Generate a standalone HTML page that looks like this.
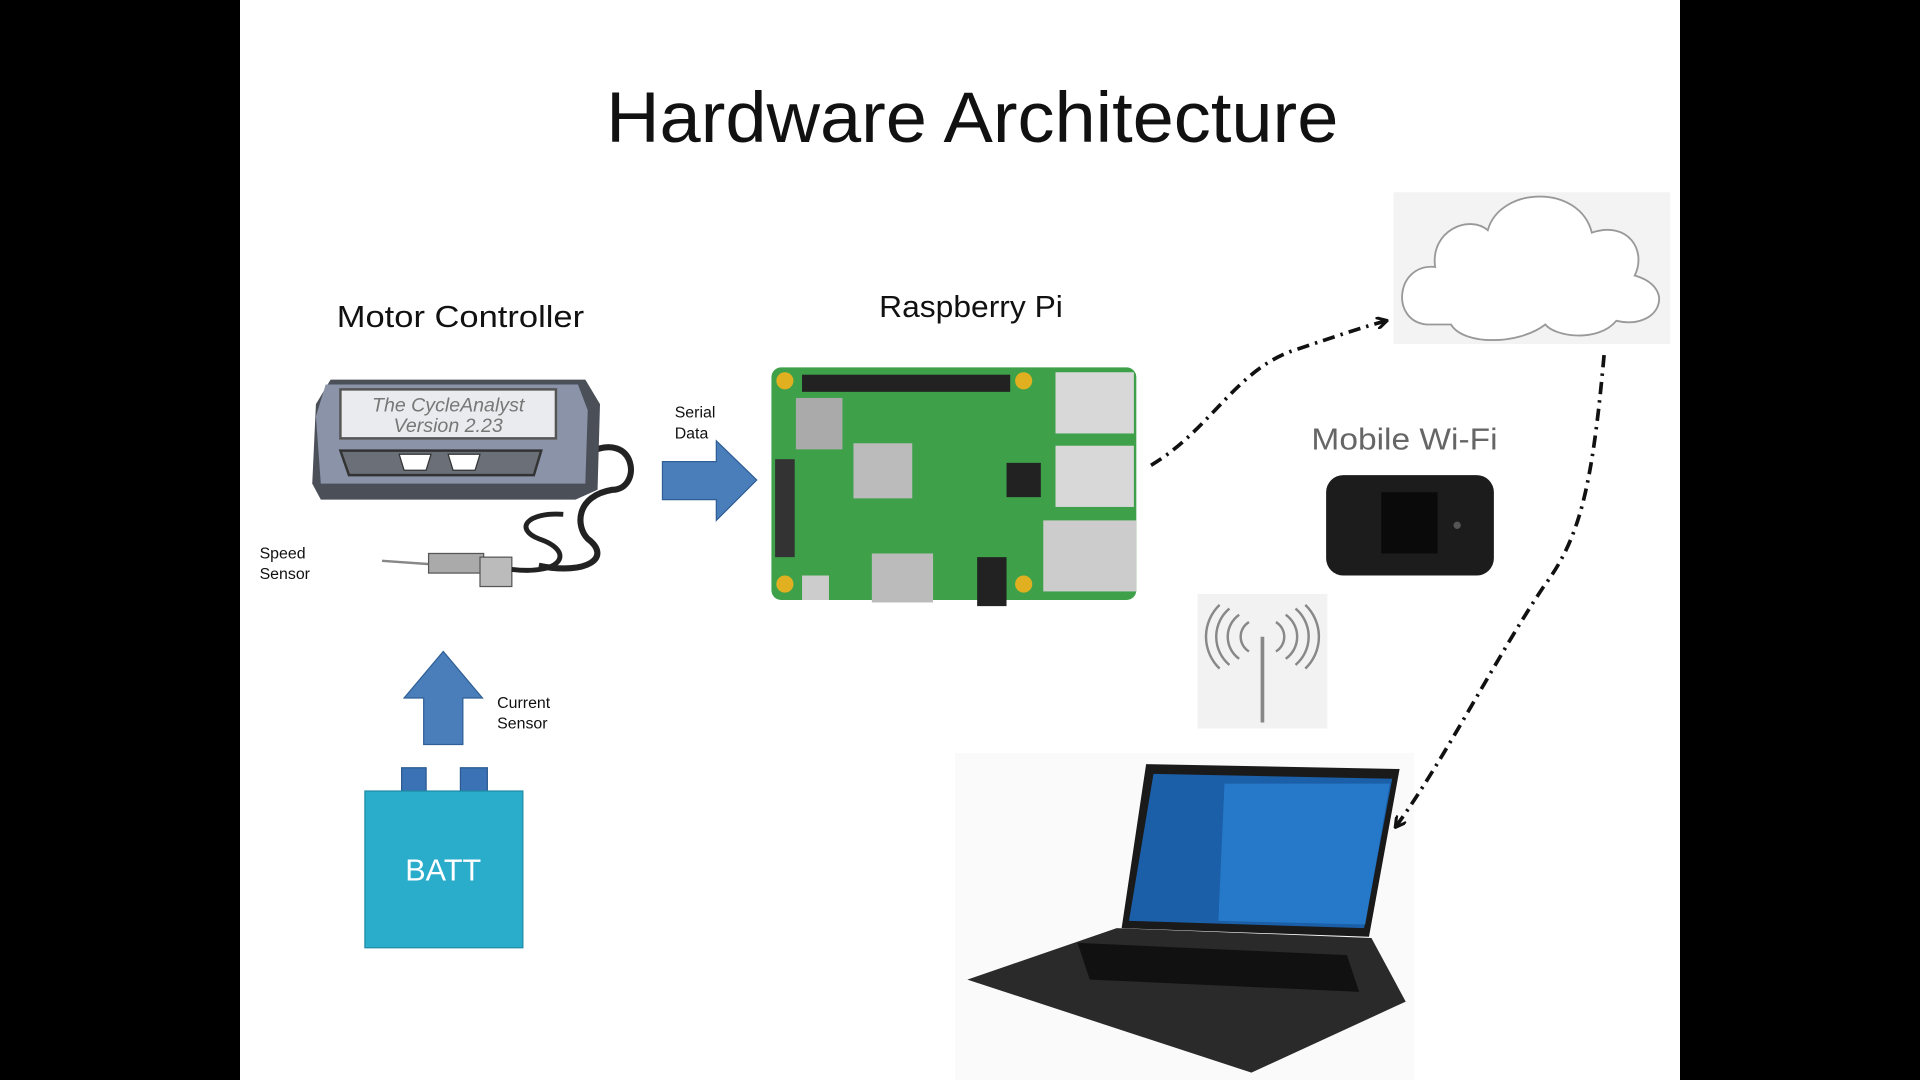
<!DOCTYPE html>
<html><head><meta charset="utf-8"><style>
html,body{margin:0;padding:0;background:#000;}
svg{display:block;}
text{font-family:"Liberation Sans",sans-serif;}
</style></head><body>
<svg width="1920" height="1080" viewBox="0 0 1568 882" preserveAspectRatio="none" xmlns="http://www.w3.org/2000/svg">
<rect x="0" y="0" width="1568" height="882" fill="#000"/>
<rect x="196" y="0" width="1176" height="882" fill="#fff"/>
<text x="794" y="116" font-size="58" text-anchor="middle" fill="#111" textLength="598" lengthAdjust="spacingAndGlyphs">Hardware Architecture</text>
<text x="376" y="267" font-size="25" text-anchor="middle" fill="#111" textLength="202" lengthAdjust="spacingAndGlyphs">Motor Controller</text>
<text x="793" y="259" font-size="25" text-anchor="middle" fill="#111" textLength="150" lengthAdjust="spacingAndGlyphs">Raspberry Pi</text>
<text x="1147" y="367" font-size="25" text-anchor="middle" fill="#666" textLength="152" lengthAdjust="spacingAndGlyphs">Mobile Wi-Fi</text>
<text x="832" y="702" font-size="25" text-anchor="middle" fill="#111" textLength="82" lengthAdjust="spacingAndGlyphs">Laptop</text>
<text x="551" y="341" font-size="13" fill="#111">Serial</text>
<text x="551" y="358" font-size="13" fill="#111">Data</text>
<text x="212" y="456" font-size="13" fill="#111">Speed</text>
<text x="212" y="473" font-size="13" fill="#111">Sensor</text>
<text x="406" y="578" font-size="13" fill="#111">Current</text>
<text x="406" y="595" font-size="13" fill="#111">Sensor</text>
<!-- motor controller -->
<path d="M480 370 C520 350 525 400 500 400 C470 405 470 430 480 440 C500 455 480 470 440 462" fill="none" stroke="#222" stroke-width="5"/>
<path d="M270 310 L478 310 L490 330 L488 400 L470 408 L262 408 L255 395 L258 330 Z" fill="#4a4f58"/>
<path d="M266 314 L472 314 L480 335 L478 395 L262 395 L258 340 Z" fill="#8a93a8"/>
<rect x="278" y="318" width="176" height="40" fill="#e9ebee" stroke="#555" stroke-width="2"/>
<text x="366" y="336" font-size="16" font-family="Liberation Mono" font-style="italic" text-anchor="middle" fill="#777">The CycleAnalyst</text>
<text x="366" y="353" font-size="16" font-family="Liberation Mono" font-style="italic" text-anchor="middle" fill="#777">Version  2.23</text>
<path d="M278 368 L442 368 L436 388 L285 388 Z" fill="#6a6f78" stroke="#333" stroke-width="2"/>
<path d="M326 371 L352 371 L348 384 L330 384 Z" fill="#fff" stroke="#333"/>
<path d="M366 371 L392 371 L388 384 L370 384 Z" fill="#fff" stroke="#333"/>
<line x1="312" y1="458" x2="355" y2="461" stroke="#888" stroke-width="2"/>
<rect x="350" y="452" width="45" height="16" fill="#aaa" stroke="#555"/>
<rect x="392" y="455" width="26" height="24" fill="#bbb" stroke="#555"/>
<path d="M418 465 C460 470 470 450 440 440 C420 432 430 418 460 420" fill="none" stroke="#222" stroke-width="4"/>
<!-- serial arrow -->
<path d="M541 377 L585 377 L585 360 L618 392 L585 425 L585 408 L541 408 Z" fill="#4a7ebb" stroke="#2f5f96"/>
<!-- raspberry pi -->
<rect x="630" y="300" width="298" height="190" rx="8" fill="#3ea14a"/>
<rect x="655" y="306" width="170" height="14" fill="#222"/>
<circle cx="641" cy="311" r="7" fill="#e0b020"/><circle cx="836" cy="311" r="7" fill="#e0b020"/>
<circle cx="641" cy="477" r="7" fill="#e0b020"/><circle cx="836" cy="477" r="7" fill="#e0b020"/>
<rect x="650" y="325" width="38" height="42" fill="#aaa"/>
<rect x="697" y="362" width="48" height="45" fill="#bbb"/>
<rect x="633" y="375" width="16" height="80" fill="#333"/>
<rect x="862" y="304" width="64" height="50" fill="#d8d8d8"/>
<rect x="862" y="364" width="64" height="50" fill="#d8d8d8"/>
<rect x="852" y="425" width="76" height="58" fill="#ccc"/>
<rect x="712" y="452" width="50" height="40" fill="#bbb"/>
<rect x="798" y="455" width="24" height="40" fill="#222"/>
<rect x="822" y="378" width="28" height="28" fill="#222"/>
<rect x="655" y="470" width="22" height="20" fill="#ccc"/>
<!-- cloud -->
<rect x="1138" y="157" width="226" height="124" fill="#f3f3f3"/>
<path d="M1165 265 C1135 262 1140 215 1172 218 C1168 188 1200 175 1215 188 C1225 152 1290 150 1300 190 C1330 180 1345 205 1335 225 C1370 235 1355 270 1320 262 C1305 280 1270 275 1262 265 C1240 282 1195 282 1185 265 Z" fill="#fff" stroke="#999" stroke-width="1.5"/>
<!-- mobile wifi -->
<rect x="1083" y="388" width="137" height="82" rx="14" fill="#1c1c1c"/>
<rect x="1128" y="402" width="46" height="50" fill="#0a0a0a"/>
<circle cx="1190" cy="429" r="3" fill="#555"/>
<!-- antenna -->
<rect x="978" y="485" width="106" height="110" fill="#f2f2f2"/>
<line x1="1031" y1="520" x2="1031" y2="590" stroke="#888" stroke-width="3"/>
<g fill="none" stroke="#888" stroke-width="2">
<path d="M1020 508 A14 14 0 0 0 1020 532"/><path d="M1012 502 A22 22 0 0 0 1012 538"/><path d="M1004 497 A30 30 0 0 0 1004 543"/><path d="M996 494 A36 36 0 0 0 996 546"/>
<path d="M1042 508 A14 14 0 0 1 1042 532"/><path d="M1050 502 A22 22 0 0 1 1050 538"/><path d="M1058 497 A30 30 0 0 1 1058 543"/><path d="M1066 494 A36 36 0 0 1 1066 546"/>
</g>
<!-- laptop -->
<rect x="780" y="615" width="375" height="267" fill="#fafafa"/>
<path d="M936 624 L1143 628 L1118 765 L916 758 Z" fill="#1a1a1a"/>
<path d="M942 632 L1137 636 L1114 758 L922 752 Z" fill="#1a5fa8"/>
<path d="M1000 640 L1135 640 L1115 755 L995 752 Z" fill="#2e8be0" opacity="0.6"/>
<path d="M912 758 L1120 766 L1148 818 L1022 876 L790 800 Z" fill="#2a2a2a"/>
<path d="M880 770 L1100 780 L1110 810 L890 800 Z" fill="#111"/>
<!-- current arrow -->
<path d="M346 608 L346 570 L330 570 L362 532 L394 570 L378 570 L378 608 Z" fill="#4a7ebb" stroke="#2f5f96"/>
<!-- battery -->
<rect x="328" y="627" width="20" height="20" fill="#3a72b5" stroke="#2a5a90"/>
<rect x="376" y="627" width="22" height="20" fill="#3a72b5" stroke="#2a5a90"/>
<rect x="298" y="646" width="129" height="128" fill="#2aaccb" stroke="#1f8ba6"/>
<text x="362" y="719" font-size="25" text-anchor="middle" fill="#fff">BATT</text>
<!-- connectors -->
<defs><marker id="ah" markerWidth="10" markerHeight="10" refX="8" refY="5" orient="auto" markerUnits="userSpaceOnUse"><path d="M0 0 L9 5 L0 10" fill="none" stroke="#111" stroke-width="2.5"/></marker></defs>
<path d="M940 380 C990 350 1010 300 1060 285 C1090 275 1110 268 1132 262" fill="none" stroke="#111" stroke-width="3" stroke-dasharray="10 5 2 5" marker-end="url(#ah)"/>
<path d="M1310 290 C1300 400 1290 440 1260 480 C1220 540 1180 620 1140 675" fill="none" stroke="#111" stroke-width="3" stroke-dasharray="10 5 2 5" marker-end="url(#ah)"/>
</svg>
</body></html>
